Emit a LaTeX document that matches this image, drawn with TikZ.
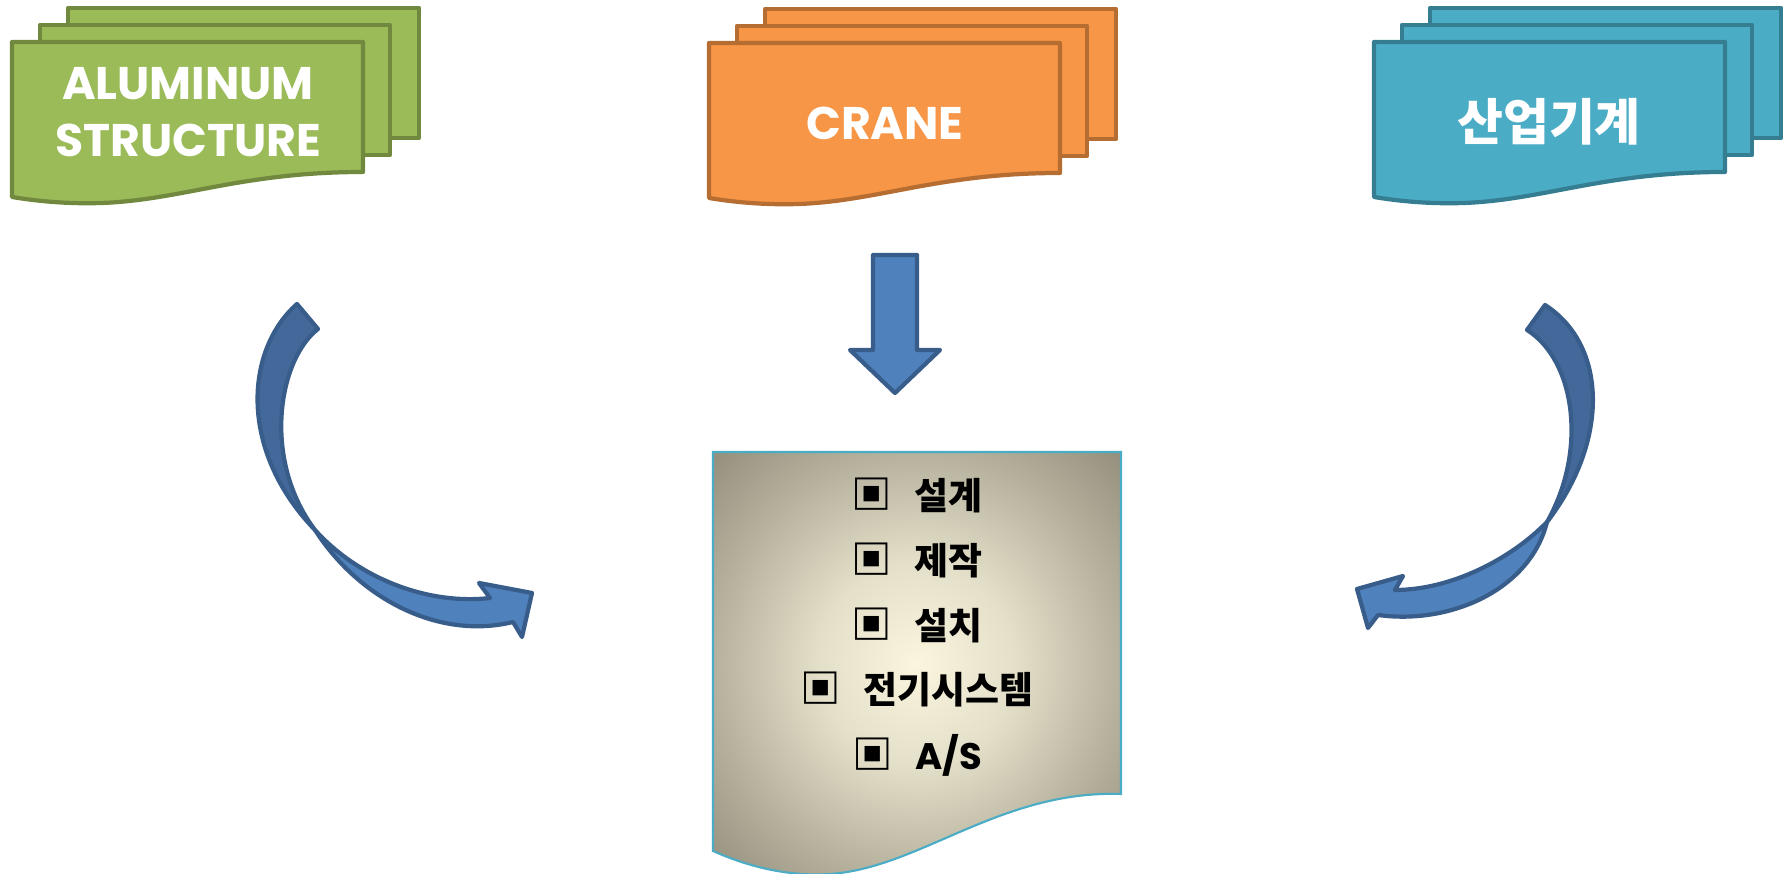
\documentclass[tikz,border=0pt]{standalone}
\usepackage{fontspec}
\newfontfamily\kofont{Noto Sans CJK KR}
\newfontfamily\enfont{Poppins}
\usetikzlibrary{calc}
\definecolor{sheetgreen}{HTML}{9BBB59}
\definecolor{sheetgreenline}{HTML}{71893F}
\definecolor{sheetorange}{HTML}{F79646}
\definecolor{sheetorangeline}{HTML}{B66D31}
\definecolor{sheetblue}{HTML}{4BACC6}
\definecolor{sheetblueline}{HTML}{357D91}
\definecolor{arrowblue}{HTML}{4F81BD}
\definecolor{arrowdeep}{HTML}{43699B}
\definecolor{arrowline}{HTML}{385D8A}
\definecolor{docinner}{HTML}{FBF5DE}
\definecolor{docmid}{HTML}{E3DFC8}
\definecolor{docedge}{HTML}{B5B19D}
\definecolor{docouter}{HTML}{928D7A}
% light centre, grey corners
\pgfdeclareradialshading{pagelight}{\pgfpoint{0bp}{0bp}}{%
    color(0bp)=(docinner); color(12bp)=(docmid); color(25bp)=(docedge);
    color(36bp)=(docouter); color(50bp)=(docouter)}
\newcommand{\bullbox}{{\fontsize{11.5}{12}\selectfont ▣}\hspace{0.62em}}
\tikzset{
    % sheets of the three stacks
    greensheet/.style={fill=sheetgreen, draw=sheetgreenline, line width=1.2pt, line join=round},
    orangesheet/.style={fill=sheetorange, draw=sheetorangeline, line width=1.2pt, line join=round},
    bluesheet/.style={fill=sheetblue, draw=sheetblueline, line width=1.2pt, line join=round},
    % three sheets, the front one with a wavy foot
    pics/sheetstack/.style={code={
        \draw[#1] (56,-34) rectangle (407,96);
        \draw[#1] (28,-17) rectangle (378,113);
        \draw[#1] (0,0) -- (351,0) -- (351,130)
            .. controls (230,130) and (170,158) .. (90,161)
            .. controls (60,162) and (30,160) .. (0,155) -- cycle;
    }},
    % texts on the sheets
    headtext/.style={text=white, align=center, inner sep=0pt,
           font=\enfont\bfseries\fontsize{13}{16.2}\selectfont},
    kohead/.style={text=white, inner sep=0pt,
           font=\kofont\bfseries\fontsize{14.2}{16}\selectfont},
    % block arrows
    blockarrow/.style={fill=arrowblue, draw=arrowline, line width=1.2pt, line join=round},
    arrowback/.style={blockarrow, fill=arrowdeep},
    % the page with the list
    docpage/.style={draw=sheetblue, line width=0.6pt, shading=pagelight},
    item/.style={inner sep=0pt,
           font=\kofont\bfseries\fontsize{10.5}{12}\selectfont}
}

\begin{document}
\begin{tikzpicture}[x=0.01cm, y=-0.01cm]
	\useasboundingbox (0,0) rectangle (1784,874);
	%
	% stacks
	%
	\pic at (12,42) {sheetstack=greensheet};
	\pic at (709,43) {sheetstack=orangesheet};
	\pic at (1374,42) {sheetstack=bluesheet};
	\node[headtext] (alu) at (188,112) {ALUMINUM\\STRUCTURE};
	\node[headtext] (crane) at (885,123) {CRANE};
	\node[kohead] (machine) at (1549,122) {산업기계};
	%
	% arrows
	%
	\draw[blockarrow] (873,255) -- (917,255) -- (917,350) -- (940,350)
		-- (895,393) -- (850,350) -- (873,350) -- cycle;
	% left
	\draw[arrowback] (297,304) -- (318,329) .. controls (278,360) and (262,460) .. (315,530)
		.. controls (238,450) and (245,350) .. cycle;
	\draw[blockarrow] (315,530) .. controls (360,580) and (430,605) .. (490,598)
		-- (479,583) -- (532,593) -- (522,637) -- (513,622)
		.. controls (440,640) and (360,600) .. cycle;
	% right
	\draw[arrowback] (1545,305) -- (1527,330) .. controls (1575,360) and (1588,450) .. (1547,522)
		.. controls (1610,440) and (1607,345) .. cycle;
	\draw[blockarrow] (1547,522) .. controls (1510,560) and (1450,590) .. (1395,590)
		-- (1403,576) -- (1357,589) -- (1368,628) -- (1378,615)
		.. controls (1450,625) and (1530,590) .. cycle;
	%
	% page
	%
	\shadedraw[docpage] (713,452) -- (1121,452) -- (1121,794)
		.. controls (1000,790) and (920,868) .. (830,874)
		.. controls (800,876) and (760,872) .. (713,851) -- cycle;
	\foreach \txt [count=\i] in {설계, 제작, 설치, 전기시스템, {\enfont A/S}}
		\node[item] (item\i) at (917,430+65*\i) {\bullbox\txt};
\end{tikzpicture}
\end{document}
